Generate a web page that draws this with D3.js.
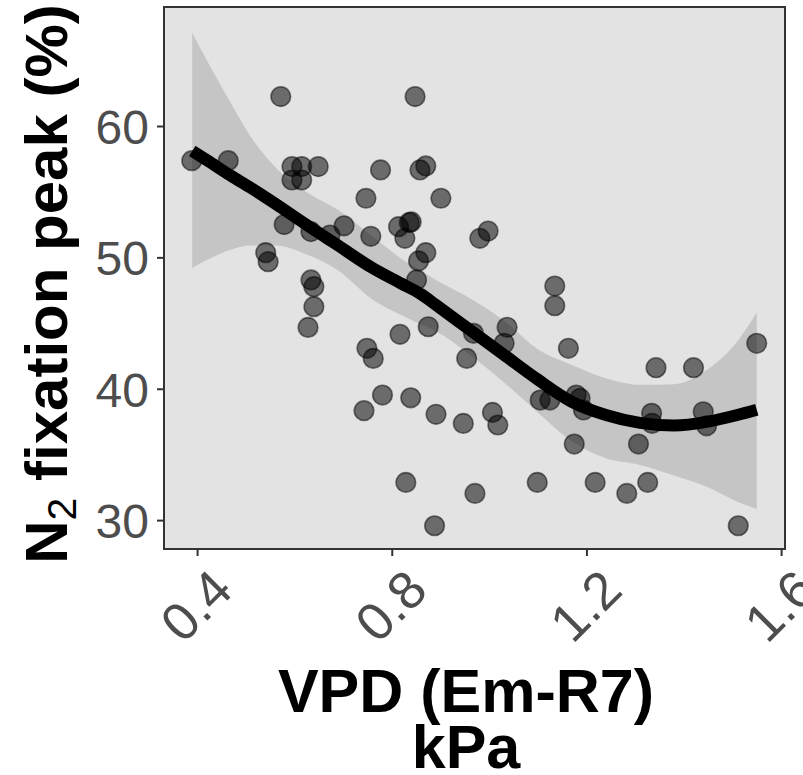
<!DOCTYPE html>
<html>
<head>
<meta charset="utf-8">
<script src="https://cdn.jsdelivr.net/npm/d3@7"></script>
<style>
  body { margin: 0; background: #fff; }
  text { font-family: "Liberation Sans", Arial, sans-serif; }
</style>
</head>
<body>
<div id="chart"></div>
<script>
// observed points: VPD (kPa) and N2 fixation peak (%)
const vpd = [0.389, 0.464, 0.572, 0.595, 0.615, 0.649, 0.595, 0.615, 0.777, 0.858,
  0.870, 0.848, 0.747, 0.901, 0.579, 0.634, 0.673, 0.702, 0.757, 0.814,
  0.836, 0.840, 0.827, 0.981, 0.998, 0.541, 0.546, 0.870, 0.855, 0.851,
  0.634, 0.640, 0.640, 0.628, 1.135, 1.135, 0.817, 0.875, 0.968, 1.037,
  1.031, 0.954, 1.163, 0.749, 0.762, 0.781, 0.839, 0.743, 0.891, 0.947,
  1.007, 1.018, 1.105, 1.125, 1.179, 1.187, 1.194, 1.175, 0.829, 0.971,
  1.099, 0.888, 1.550, 1.343, 1.420, 1.334, 1.335, 1.440, 1.447, 1.307,
  1.218, 1.326, 1.283, 1.512];
const n2Peak = [57.36, 57.36, 62.24, 56.91, 56.91, 56.91, 55.89, 55.89, 56.66, 56.66,
  56.96, 62.24, 54.5, 54.5, 52.5, 51.96, 51.7, 52.4, 51.6, 52.34,
  52.65, 52.7, 51.45, 51.45, 52.0, 50.36, 49.67, 50.36, 49.73, 48.28,
  48.28, 47.77, 46.25, 44.67, 47.82, 46.32, 44.14, 44.72, 44.22, 44.68,
  43.46, 42.31, 43.08, 43.08, 42.31, 39.52, 39.31, 38.33, 38.05, 37.36,
  38.2, 37.24, 39.14, 39.14, 39.52, 39.27, 38.38, 35.79, 32.87, 32.03,
  32.87, 29.57, 43.46, 41.6, 41.6, 38.13, 37.36, 38.25, 37.18, 35.79,
  32.87, 32.87, 32.03, 29.57];

// loess smoother with confidence band
const fitX = [0.39, 0.42, 0.47, 0.51, 0.56, 0.62, 0.69, 0.76, 0.82, 0.86, 0.89, 0.96,
  1.03, 1.10, 1.17, 1.24, 1.31, 1.38, 1.45, 1.51, 1.55];
const fitY = [58.1, 57.4, 56.2, 55.3, 54.1, 52.6, 50.9, 49.2, 48.0, 47.2, 46.4, 44.5,
  42.6, 40.7, 39.0, 38.0, 37.4, 37.2, 37.5, 38.0, 38.4];
const ciLow = [49.2, 49.8, 50.6, 50.9, 50.9, 50.3, 49.0, 46.8, 45.6, 44.9, 44.4, 42.6,
  40.5, 38.2, 36.0, 34.7, 34.2, 33.4, 32.5, 31.4, 30.85];
const ciHigh = [67.1, 65.0, 61.7, 59.2, 56.9, 55.1, 53.6, 51.6, 49.9, 49.0, 48.3, 46.9,
  45.2, 43.0, 41.8, 40.8, 40.3, 40.35, 41.5, 43.6, 45.8];

const xTicks = [0.4, 0.8, 1.2, 1.6];
const yTicks = [30, 40, 50, 60];

const W = 803, H = 775;
const margin = {top: 7, right: 18, bottom: 226, left: 164};
const width = W - margin.left - margin.right,
      height = H - margin.top - margin.bottom;

const svg = d3.select("#chart").append("svg")
  .attr("width", W)
  .attr("height", H);

const g = svg.append("g")
  .attr("transform", "translate(" + margin.left + "," + margin.top + ")");

const x = d3.scaleLinear().domain([0.332, 1.608]).range([0, width]);
const y = d3.scaleLinear().domain([27.8, 69.06]).range([height, 0]);

// panel background
g.append("rect")
  .attr("width", width)
  .attr("height", height)
  .attr("fill", "#e3e3e3");

// confidence band
const band = d3.area()
  .x((d, i) => x(fitX[i]))
  .y0((d, i) => y(ciLow[i]))
  .y1((d, i) => y(ciHigh[i]))
  .curve(d3.curveMonotoneX);

g.append("path")
  .datum(fitX)
  .attr("d", band)
  .attr("fill", "#999999")
  .attr("fill-opacity", 0.4);

// points
const pts = vpd.map((v, i) => ({x: v, y: n2Peak[i]}));
g.selectAll(".pt")
  .data(pts)
  .enter().append("circle")
  .attr("class", "pt")
  .attr("cx", d => x(d.x))
  .attr("cy", d => y(d.y))
  .attr("r", 9.8)
  .attr("fill", "#000")
  .attr("fill-opacity", 0.53)
  .attr("stroke", "#000")
  .attr("stroke-opacity", 0.5)
  .attr("stroke-width", 1.6);

// smoother line
const line = d3.line()
  .x((d, i) => x(fitX[i]))
  .y((d, i) => y(fitY[i]))
  .curve(d3.curveMonotoneX);

g.append("path")
  .datum(fitX)
  .attr("d", line)
  .attr("fill", "none")
  .attr("stroke", "#000")
  .attr("stroke-width", 12);

// panel border
g.append("rect")
  .attr("width", width)
  .attr("height", height)
  .attr("fill", "none")
  .attr("stroke", "#333333")
  .attr("stroke-width", 2);

// axes
const yAxis = g.append("g")
  .call(d3.axisLeft(y).tickValues(yTicks).tickSize(7).tickPadding(8));
yAxis.select(".domain").remove();
yAxis.selectAll("line").attr("stroke", "#333333").attr("stroke-width", 2);
yAxis.selectAll("text")
  .attr("fill", "#4d4d4d")
  .style("font-size", "48px")
  .attr("dy", "0.36em");

const xAxis = g.append("g")
  .attr("transform", "translate(0," + height + ")")
  .call(d3.axisBottom(x).tickValues(xTicks).tickSize(7).tickFormat(d3.format(".1f")));
xAxis.select(".domain").remove();
xAxis.selectAll("line").attr("stroke", "#333333").attr("stroke-width", 2);
xAxis.selectAll("text")
  .attr("fill", "#4d4d4d")
  .style("font-size", "53px")
  .attr("y", 0)
  .attr("dy", "0.71em")
  .attr("text-anchor", "end")
  .attr("transform", "translate(11,17) rotate(-45)");

// axis titles
const xTitle = svg.append("text")
  .attr("x", 466)
  .attr("y", 712)
  .attr("text-anchor", "middle")
  .style("font-size", "61px")
  .style("font-weight", "bold")
  .attr("fill", "#000");
xTitle.append("tspan").text("VPD (Em-R7)");
xTitle.append("tspan").attr("x", 466).attr("dy", "56px").text("kPa");

const yTitle = svg.append("text")
  .attr("transform", "translate(67,284) rotate(-90)")
  .attr("text-anchor", "middle")
  .style("font-size", "60px")
  .style("font-weight", "bold")
  .attr("fill", "#000");
yTitle.append("tspan").text("N");
yTitle.append("tspan")
  .attr("baseline-shift", "-22%")
  .style("font-size", "41px")
  .style("font-weight", "normal")
  .text("2");
yTitle.append("tspan").text(" fixation peak (%)");
</script>
</body>
</html>
